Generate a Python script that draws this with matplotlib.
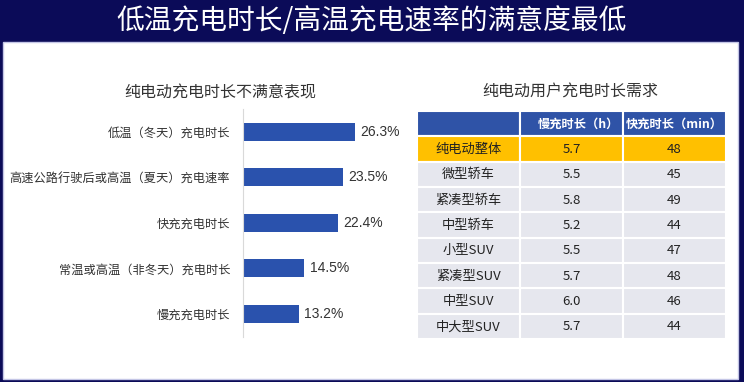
import matplotlib.pyplot as plt
from matplotlib.patches import Rectangle

plt.rcParams['font.family'] = ['Noto Sans CJK SC', 'DejaVu Sans']

# data
title = "低温充电时长/高温充电速率的满意度最低"
bar_title = "纯电动充电时长不满意表现"
bar_labels = ["低温（冬天）充电时长", "高速公路行驶后或高温（夏天）充电速率",
              "快充充电时长", "常温或高温（非冬天）充电时长", "慢充充电时长"]
bar_values = [26.3, 23.5, 22.4, 14.5, 13.2]

table_title = "纯电动用户充电时长需求"
table_header = ["", "慢充时长（h）", "快充时长（min）"]
row_names = ["纯电动整体", "微型轿车", "紧凑型轿车", "中型轿车",
             "小型SUV", "紧凑型SUV", "中型SUV", "中大型SUV"]
slow_hours = ["5.7", "5.5", "5.8", "5.2", "5.5", "5.7", "6.0", "5.7"]
fast_minutes = ["48", "45", "49", "44", "47", "48", "46", "44"]

W, H = 744, 382
fig = plt.figure(figsize=(W / 100, H / 100), dpi=100)
fig.patch.set_facecolor("#0b0b58")


def box(x0, y0, x1, y1):
    # pixel box (top-left origin) -> figure fraction rect
    return [x0 / W, 1 - y1 / H, (x1 - x0) / W, (y1 - y0) / H]


# white panel, behind the axes
fig.add_artist(Rectangle((3 / W, 1 - 379 / H), 735 / W, 337 / H,
                         transform=fig.transFigure, facecolor="white",
                         edgecolor="#c4c6e6", linewidth=1, zorder=-10))
fig.text(372 / W, 1 - 21 / H, title, color="white", fontsize=20,
         ha="center", va="center")

# bar chart
ax = fig.add_axes(box(242.5, 109, 420, 336.5))
ys = range(len(bar_values))
ax.barh(ys, bar_values, height=0.4, color="#2a52ad")
ax.set_ylim(len(bar_values) - 0.5, -0.5)
ax.set_xlim(0, (420 - 242.5) / 4.26)
for s in ["top", "right", "bottom"]:
    ax.spines[s].set_visible(False)
ax.spines["left"].set_color("#d9d9d9")
ax.spines["left"].set_linewidth(0.8)
ax.set_xticks([])
ax.set_yticks(list(ys))
ax.set_yticklabels(bar_labels, fontsize=8.8, color="#333333")
ax.tick_params(axis="y", length=0, pad=9)
ax.patch.set_alpha(0)
for y, v in zip(ys, bar_values):
    ax.annotate(f"{v}%", (v, y), xytext=(4, 0), textcoords="offset points",
                va="center", ha="left", fontsize=10, color="#333333",
                family=["Liberation Sans", "DejaVu Sans"])
fig.text(220 / W, 1 - 93 / H, bar_title, fontsize=11.5, color="#333333",
         ha="center", va="center")

# table
fig.text(570 / W, 1 - 92 / H, table_title, fontsize=11.5, color="#333333",
         ha="center", va="center")
tax = fig.add_axes(box(417, 111, 726, 339))
nrows = len(row_names) + 1
tax.set_xlim(0, 3)
tax.set_ylim(nrows, 0)
tax.axis("off")
rows = [table_header] + [[n, s, f] for n, s, f in zip(row_names, slow_hours, fast_minutes)]
for r, row in enumerate(rows):
    if r == 0:
        fc, tc, fw = "#2f53a7", "white", "bold"
    elif r == 1:
        fc, tc, fw = "#ffc000", "#222222", "normal"
    else:
        fc, tc, fw = "#e6e7ee", "#222222", "normal"
    for c, txt in enumerate(row):
        tax.add_patch(Rectangle((c, r), 1, 1, facecolor=fc,
                                edgecolor="white", linewidth=1.5))
        tax.text(c + 0.5 + (0.07 if r == 0 and c == 1 else 0), r + 0.52, txt,
                 ha="center", va="center", color=tc, fontsize=9.5 if r else 8.8,
                 fontweight=fw)

fig.savefig("out.png", dpi=100, facecolor=fig.get_facecolor())
